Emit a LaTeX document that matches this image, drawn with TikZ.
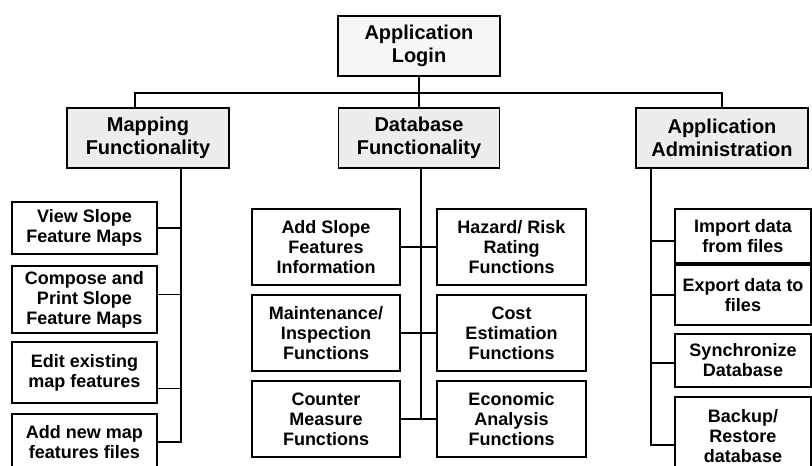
\documentclass[tikz,border=0pt]{standalone}
\usepackage{fontspec}
\setmainfont{Liberation Sans}
\begin{document}
\begin{tikzpicture}[x=1pt,y=-1pt,
  line width=1.1pt,
  base/.style={draw=black, line width=1.1pt, align=center, inner sep=0pt},
  topbox/.style={base, fill=gray!14, font=\bfseries\fontsize{20}{23}\selectfont},
  subbox/.style={base, fill=white, font=\bfseries\fontsize{18}{20}\selectfont},
  wire/.style={draw=black, line width=1.1pt}]
\clip (0,0) rectangle (812,466);
\fill[white] (0,0) rectangle (812,466);

% top level
\node[topbox, fill=gray!6, minimum width=162pt, minimum height=60pt] (login) at (419,46) {Application\\Login};
\node[topbox, minimum width=162pt, minimum height=60pt] (map) at (148,138) {Mapping\\Functionality};
\node[topbox, minimum width=161pt, minimum height=60pt] (db) at (419,138) {Database\\Functionality};
\node[topbox, minimum width=172pt, minimum height=60pt] (adm) at (722,138) {Application\\Administration};

\coordinate (bus) at (0,93);
\coordinate (mtrunk) at (181,0);
\coordinate (dtrunk) at (421,0);
\coordinate (atrunk) at (651,0);

\draw[wire] (login) -- (db);
\draw[wire] ([xshift=-13pt]map.north) |- (adm.north |- bus) -- (adm.north);

% mapping children
\node[subbox, minimum width=145pt, minimum height=52pt] (m1) at (84.5,228) {View Slope\\Feature Maps};
\node[subbox, minimum width=145pt, minimum height=67pt] (m2) at (84.5,299.5) {Compose and\\Print Slope\\Feature Maps};
\node[subbox, minimum width=145pt, minimum height=61pt] (m3) at (84.5,372.5) {Edit existing\\map features};
\node[subbox, minimum width=145pt, minimum height=56pt] (m4) at (84.5,442) {Add new map\\features files};

\draw[wire] (map.south -| mtrunk) |- (m4.east);
\draw[wire] (m1.east) -- (m1.east -| mtrunk);
\draw[wire] ([yshift=5pt]m2.east) -- ([yshift=5pt]m2.east -| mtrunk);
\draw[wire] ([yshift=-16pt]m3.east) -- ([yshift=-16pt]m3.east -| mtrunk);

% database children
\node[subbox, minimum width=148pt, minimum height=76pt] (d1) at (326,247) {Add Slope\\Features\\Information};
\node[subbox, minimum width=148pt, minimum height=76pt] (d2) at (326,333) {Maintenance/\\Inspection\\Functions};
\node[subbox, minimum width=148pt, minimum height=76pt] (d3) at (326,419) {Counter\\Measure\\Functions};
\node[subbox, minimum width=149pt, minimum height=76pt] (d4) at (511.5,247) {Hazard/ Risk\\Rating\\Functions};
\node[subbox, minimum width=149pt, minimum height=76pt] (d5) at (511.5,333) {Cost\\Estimation\\Functions};
\node[subbox, minimum width=149pt, minimum height=76pt] (d6) at (511.5,419) {Economic\\Analysis\\Functions};

\draw[wire] (db.south -| dtrunk) -- (d6.west -| dtrunk);
\draw[wire] (d1.east) -- (d4.west);
\draw[wire] (d2.east) -- (d5.west);
\draw[wire] (d3.east) -- (d6.west);

% administration children
\node[subbox, minimum width=136pt, minimum height=54pt] (a1) at (743,236) {Import data\\from files};
\node[subbox, minimum width=136pt, minimum height=60pt] (a2) at (743,295) {Export data to\\files};
\node[subbox, minimum width=136pt, minimum height=53pt] (a3) at (743,360.5) {Synchronize\\Database};
\node[subbox, minimum width=136pt, minimum height=78pt] (a4) at (743,436) {Backup/\\Restore\\database};

\draw[wire] (adm.south -| atrunk) |- ([yshift=-9pt]a4.west);
\draw[wire] ([yshift=-5pt]a1.west) -- ([yshift=-5pt]a1.west -| atrunk);
\draw[wire] (a2.west) -- (a2.west -| atrunk);
\draw[wire] ([yshift=-2.5pt]a3.west) -- ([yshift=-2.5pt]a3.west -| atrunk);
\end{tikzpicture}
\end{document}
